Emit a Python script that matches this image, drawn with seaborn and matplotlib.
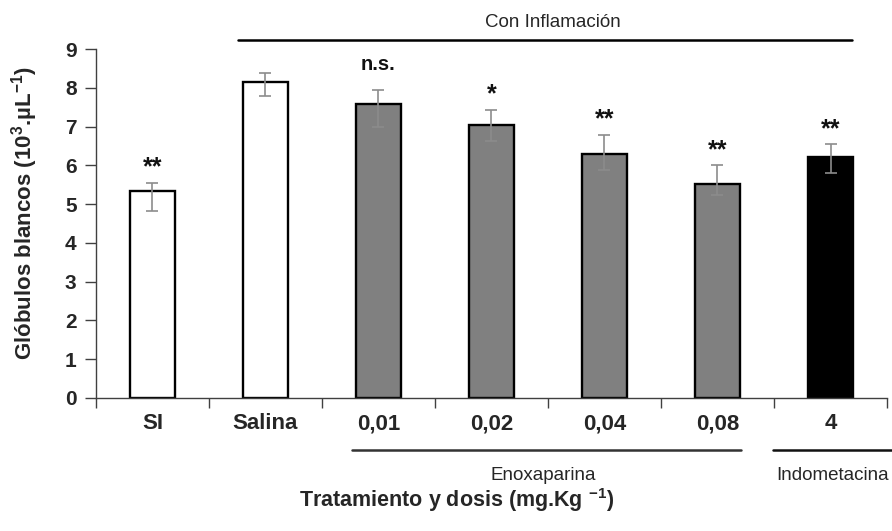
import numpy as np
import pandas as pd
import matplotlib
matplotlib.use("Agg")
import matplotlib.pyplot as plt
import seaborn as sns

# Treatment groups and measured white blood cell counts (10^3 per µL)
categories = ["SI", "Salina", "0,01", "0,02", "0,04", "0,08", "4"]
means = [5.34, 8.14, 7.57, 7.03, 6.30, 5.51, 6.21]
err_low = [0.52, 0.34, 0.59, 0.41, 0.41, 0.27, 0.41]
err_high = [0.21, 0.23, 0.37, 0.40, 0.49, 0.49, 0.33]
bar_colors = ["#ffffff", "#ffffff", "#808080", "#808080", "#808080", "#808080", "#000000"]
significance = ["**", "", "n.s.", "*", "**", "**", "**"]

sns.set_theme(style="white")
plt.rcParams["font.family"] = ["Liberation Sans", "DejaVu Sans"]
plt.rcParams["mathtext.fontset"] = "custom"
plt.rcParams["mathtext.rm"] = "Liberation Sans:bold"
plt.rcParams["mathtext.bf"] = "Liberation Sans:bold"
plt.rcParams["mathtext.it"] = "Liberation Sans:bold"

df = pd.DataFrame({"grupo": categories, "valor": means})

fig = plt.figure(figsize=(8.92, 5.31), dpi=100)
ax = fig.add_axes([0.1076, 0.2505, 0.8868, 0.6572])

sns.barplot(data=df, x="grupo", y="valor", hue="grupo", palette=bar_colors,
            legend=False, width=0.4, edgecolor="black", linewidth=1.7,
            errorbar=None, ax=ax, saturation=1)

x = np.arange(len(categories))
ax.errorbar(x, means, yerr=[err_low, err_high], fmt="none", ecolor="#8c8c8c",
            elinewidth=1.2, capsize=4.6, capthick=1.2, zorder=5)

# Significance marks above the error bars
for xi, m, up, lab in zip(x, means, err_high, significance):
    if not lab:
        continue
    if lab == "n.s.":
        ax.text(xi, m + up + 0.66, lab, ha="center", va="center",
                fontsize=14.5, fontweight="bold", color="#111111")
    else:
        ax.text(xi, m + up + 0.40, lab, ha="center", va="center",
                fontsize=18, fontweight="bold", color="#111111")

ax.set_xlim(-0.5, 6.5)
ax.set_ylim(0, 9)
ax.set_yticks(range(0, 10))
ax.tick_params(axis="y", which="major", direction="out", length=8, width=1,
               color="#404040", labelsize=15, pad=6, left=True)
for t in ax.get_yticklabels():
    t.set_fontweight("bold")

ax.set_xticks(x)
ax.set_xticklabels(categories, fontweight="bold", fontsize=16)
ax.tick_params(axis="x", which="major", length=0, pad=11)
ax.set_xticks(np.arange(-0.5, 7.0, 1.0), minor=True)
ax.tick_params(axis="x", which="minor", direction="out", length=7, width=1,
               color="#404040", bottom=True)

for side in ("top", "right"):
    ax.spines[side].set_visible(False)
for side in ("left", "bottom"):
    ax.spines[side].set_color("#404040")
    ax.spines[side].set_linewidth(1.0)

ax.set_ylabel(r"Glóbulos blancos (10$^{3}$.µL$^{-1}$)", fontsize=16, fontweight="bold")
ax.yaxis.set_label_coords(-0.071, 0.53)
ax.set_xlabel(r"Tratamiento y dosis (mg.Kg $^{-1}$)", fontsize=15.5, fontweight="bold")
ax.xaxis.set_label_coords(0.456, -0.252)

# Bracket for the inflamed groups
ax.plot([0.757, 6.19], [9.23, 9.23], color="black", lw=1.8, clip_on=False)
ax.text(3.54, 9.69, "Con Inflamación", ha="center", va="center", fontsize=13.5)

# Drug group lines beneath the tick labels
ax.plot([1.765, 5.21], [-1.34, -1.34], color="#333333", lw=1.8, clip_on=False)
ax.plot([5.49, 6.54], [-1.34, -1.34], color="#111111", lw=1.8, clip_on=False)
ax.text(3.46, -2.0, "Enoxaparina", ha="center", va="center", fontsize=13.5)
ax.text(6.02, -2.0, "Indometacina", ha="center", va="center", fontsize=13.5)

fig.savefig("out.png", dpi=100)
